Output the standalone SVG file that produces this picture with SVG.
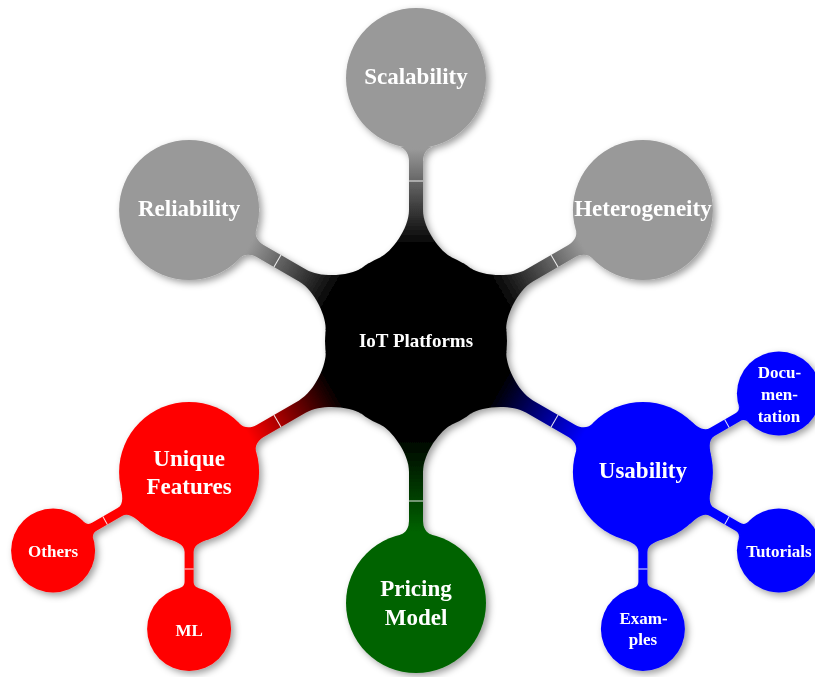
<svg xmlns="http://www.w3.org/2000/svg" xmlns:xlink="http://www.w3.org/1999/xlink" width="815" height="677" viewBox="0 0 815 677">
<style>
text{font-family:"Liberation Serif","Times New Roman",serif;font-weight:bold;fill:#fff;text-anchor:middle}
.l0{font-size:19px}
.l1{font-size:23px}
.l2{font-size:17px}
.tick{stroke:#fff;stroke-width:1;fill:none;opacity:0.9}
</style>
<defs>
<filter id="sh" x="-5%" y="-5%" width="110%" height="110%">
<feGaussianBlur in="SourceAlpha" stdDeviation="3.5"/>
<feOffset dx="3" dy="3" result="b"/>
<feFlood flood-color="#000" flood-opacity="0.38"/>
<feComposite in2="b" operator="in"/>
<feMerge><feMergeNode/><feMergeNode in="SourceGraphic"/></feMerge>
</filter>
<linearGradient id="gGray" gradientUnits="userSpaceOnUse" x1="95" y1="0" x2="192" y2="0"><stop offset="0" stop-color="#000"/><stop offset="1" stop-color="#999"/></linearGradient>
<linearGradient id="gRed" gradientUnits="userSpaceOnUse" x1="95" y1="0" x2="192" y2="0"><stop offset="0" stop-color="#000"/><stop offset="1" stop-color="#f00"/></linearGradient>
<linearGradient id="gGreen" gradientUnits="userSpaceOnUse" x1="95" y1="0" x2="192" y2="0"><stop offset="0" stop-color="#000"/><stop offset="1" stop-color="#006400"/></linearGradient>
<linearGradient id="gBlue" gradientUnits="userSpaceOnUse" x1="95" y1="0" x2="192" y2="0"><stop offset="0" stop-color="#000"/><stop offset="1" stop-color="#00f"/></linearGradient>
<g id="bar1">
<path d="M83.6,36 C88.4,25 112,7 131,7 L180,7 C186,7 192.5,10.2 193.9,16 L193.9,-16 C192.5,-10.2 186,-7 180,-7 L131,-7 C112,-7 88.4,-25 83.6,-36 Z"/>
<line class="tick" x1="160" y1="-7" x2="160" y2="7"/>
</g>
<g id="bar2">
<path d="M66.5,22 C69,14.4 72,4.5 80,4.5 L109,4.5 C113,4.5 115.2,6.1 116.2,10 L116.2,-10 C115.2,-6.1 113,-4.5 109,-4.5 L80,-4.5 C72,-4.5 69,-14.4 66.5,-22 Z"/>
<line class="tick" x1="97" y1="-4.5" x2="97" y2="4.5"/>
</g>
</defs>
<rect width="815" height="677" fill="#fff"/>
<g filter="url(#sh)">
<g id="connectors">
<use xlink:href="#bar1" href="#bar1" transform="translate(416,341) rotate(-90)" fill="url(#gGray)"/>
<use xlink:href="#bar1" href="#bar1" transform="translate(416,341) rotate(210)" fill="url(#gGray)"/>
<use xlink:href="#bar1" href="#bar1" transform="translate(416,341) rotate(-30)" fill="url(#gGray)"/>
<use xlink:href="#bar1" href="#bar1" transform="translate(416,341) rotate(150)" fill="url(#gRed)"/>
<use xlink:href="#bar1" href="#bar1" transform="translate(416,341) rotate(90)" fill="url(#gGreen)"/>
<use xlink:href="#bar1" href="#bar1" transform="translate(416,341) rotate(30)" fill="url(#gBlue)"/>
<use xlink:href="#bar2" href="#bar2" transform="translate(189.1,472) rotate(150)" fill="#f00"/>
<use xlink:href="#bar2" href="#bar2" transform="translate(189.1,472) rotate(90)" fill="#f00"/>
<use xlink:href="#bar2" href="#bar2" transform="translate(642.9,472) rotate(-30)" fill="#00f"/>
<use xlink:href="#bar2" href="#bar2" transform="translate(642.9,472) rotate(30)" fill="#00f"/>
<use xlink:href="#bar2" href="#bar2" transform="translate(642.9,472) rotate(90)" fill="#00f"/>
</g>
<g id="node-root"><circle cx="416" cy="341" r="91" fill="#000"/><text class="l0" x="416" y="347">IoT Platforms</text></g>
<g id="node-scalability"><circle cx="416" cy="78" r="70" fill="#999"/><text class="l1" x="416" y="84">Scalability</text></g>
<g id="node-reliability"><circle cx="189.1" cy="210" r="70" fill="#999"/><text class="l1" x="189.1" y="216">Reliability</text></g>
<g id="node-heterogeneity"><circle cx="642.9" cy="210" r="70" fill="#999"/><text class="l1" x="642.9" y="216">Heterogeneity</text></g>
<g id="node-unique"><circle cx="189.1" cy="472" r="70" fill="#f00"/><text class="l1" x="189.1" y="466">Unique</text><text class="l1" x="189.1" y="494">Features</text></g>
<g id="node-pricing"><circle cx="416" cy="603" r="70" fill="#006400"/><text class="l1" x="416" y="596">Pricing</text><text class="l1" x="416" y="625">Model</text></g>
<g id="node-usability"><circle cx="642.9" cy="472" r="70" fill="#00f"/><text class="l1" x="642.9" y="478">Usability</text></g>
<g id="node-others"><circle cx="53.1" cy="550.5" r="42" fill="#f00"/><text class="l2" x="53.1" y="556.5">Others</text></g>
<g id="node-ml"><circle cx="189.1" cy="629" r="42" fill="#f00"/><text class="l2" x="189.1" y="635.5">ML</text></g>
<g id="node-documentation"><circle cx="778.9" cy="393.5" r="42" fill="#00f"/><text class="l2" x="779.5" y="377.5">Docu-</text><text class="l2" x="779.5" y="399.5">men-</text><text class="l2" x="778.9" y="421.5">tation</text></g>
<g id="node-tutorials"><circle cx="778.9" cy="550.5" r="42" fill="#00f"/><text class="l2" x="778.9" y="556.5">Tutorials</text></g>
<g id="node-examples"><circle cx="642.9" cy="629" r="42" fill="#00f"/><text class="l2" x="643.5" y="623.5">Exam-</text><text class="l2" x="642.9" y="645">ples</text></g>
</g>
</svg>
